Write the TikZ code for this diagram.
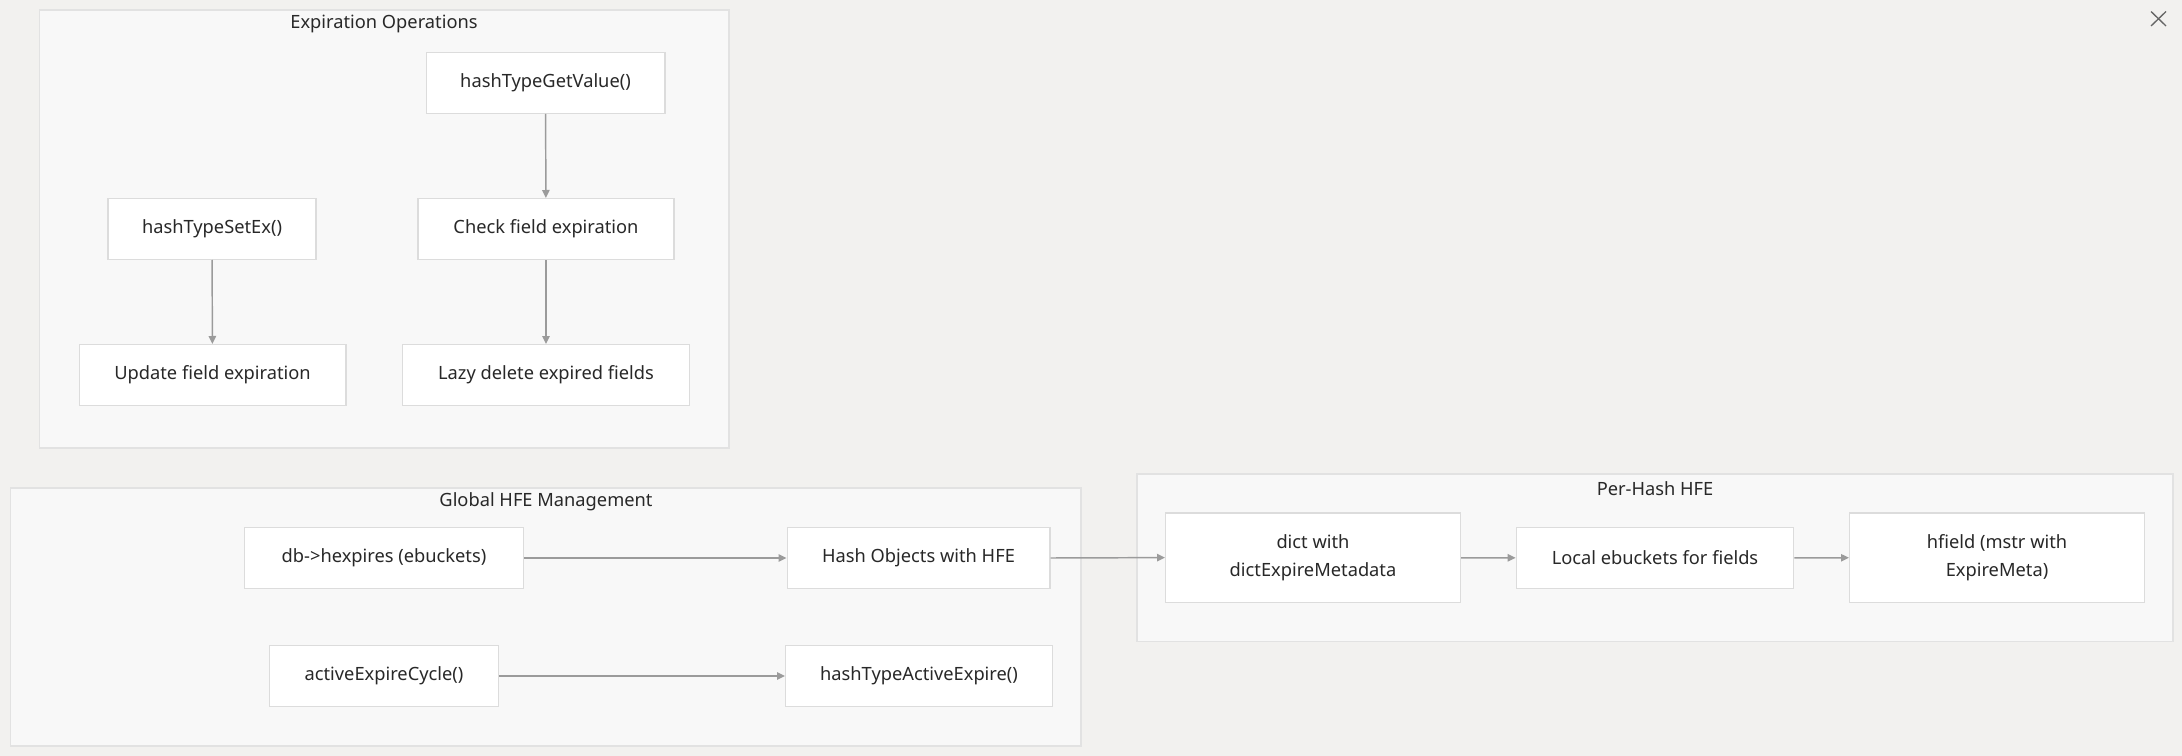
\documentclass[tikz,border=0pt]{standalone}
\usepackage{fontspec}
\setmainfont{Noto Sans}
\usetikzlibrary{arrows.meta}
\definecolor{bgc}{RGB}{242,241,239}
\definecolor{clfill}{RGB}{248,248,248}
\definecolor{clline}{RGB}{226,226,226}
\definecolor{ndline}{RGB}{220,220,220}
\definecolor{txt}{RGB}{40,40,40}
\definecolor{edge}{RGB}{155,155,155}
\tikzset{
  cluster/.style={draw=clline, fill=clfill, line width=1.2pt},
  ctitle/.style={text=txt, font=\fontsize{13.7}{16}\selectfont, inner sep=0pt},
  box/.style={draw=ndline, fill=white, line width=1pt, text=txt, inner sep=0pt,
    font=\fontsize{13.7}{21}\selectfont, align=center, minimum height=45.5pt},
  conn/.style={draw=edge, line width=1.1pt, -{Triangle[length=6pt,width=5.5pt]}},
}
\begin{document}
\begin{tikzpicture}[x=0.75pt,y=-0.75pt]
\useasboundingbox[fill=bgc] (0,0) rectangle (2182,756);
% clusters
\draw[cluster] (39.5,10) rectangle (729,448);
\node[ctitle] (t1) at (384,24) {Expiration Operations};
\draw[cluster] (10.5,488) rectangle (1081,746);
\node[ctitle] (t2) at (546,501.5) {Global HFE Management};
\draw[cluster] (1137,474) rectangle (2173,641.5);
\node[ctitle] (t3) at (1655,489) {Per-Hash HFE};
% nodes
\node[box, minimum width=179pt] (get) at (545.5,83) {hashTypeGetValue()};
\node[box, minimum width=156pt] (setex) at (212,229) {hashTypeSetEx()};
\node[box, minimum width=192pt] (check) at (546,229) {Check field expiration};
\node[box, minimum width=200pt] (update) at (212.5,375) {Update field expiration};
\node[box, minimum width=215pt] (lazy) at (546,375) {Lazy delete expired fields};
\node[box, minimum width=209.5pt] (db) at (384,558) {db->hexpires (ebuckets)};
\node[box, minimum width=197pt] (hash) at (918.5,558) {Hash Objects with HFE};
\node[box, minimum width=171.5pt] (active) at (384,676) {activeExpireCycle()};
\node[box, minimum width=200pt] (hta) at (919,676) {hashTypeActiveExpire()};
\node[box, minimum width=221pt, minimum height=67pt] (dict) at (1313,557.6) {dict with\\dictExpireMetadata};
\node[box, minimum width=208pt] (local) at (1655,558) {Local ebuckets for fields};
\node[box, minimum width=221pt, minimum height=67pt] (hfield) at (1997,557.6) {hfield (mstr with\\ExpireMeta)};
% edges
\draw[conn] (get) -- (check);
\draw[conn] (setex) -- (update);
\draw[conn] (check) -- (lazy);
\draw[conn] (db) -- (hash);
\draw[conn] (active) -- (hta);
\draw[conn] (hash.east) -- (dict.west);
\draw[conn] (dict) -- (local);
\draw[conn] (local) -- (hfield);
% close mark
\coordinate (xa) at (2151,11.5);
\coordinate (xb) at (2166,26);
\coordinate (xc) at (2166,11.5);
\coordinate (xd) at (2151,26);
\draw[draw=black!60, line width=1pt] (xa) -- (xb) (xc) -- (xd);
\end{tikzpicture}
\end{document}
